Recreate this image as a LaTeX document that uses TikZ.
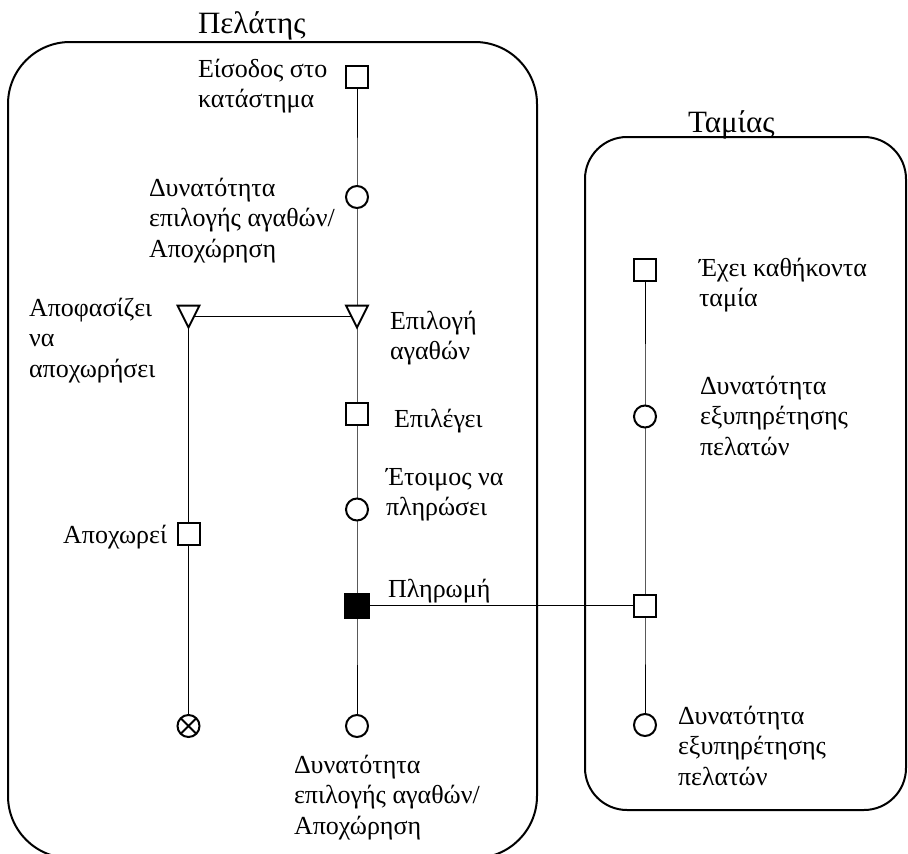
\documentclass[tikz,border=0pt]{standalone}
\usepackage{fontspec}
\setmainfont{Liberation Serif}
\usetikzlibrary{backgrounds}
\newcommand\lblfont{\fontsize{26}{30.5}\selectfont}
\newcommand\ttlfont{\fontsize{31}{36}\selectfont}

\begin{document}
\begin{tikzpicture}[x=1pt,y=-1pt,line width=2pt,
  sq/.style={draw, fill=white, rectangle, minimum size=22pt, inner sep=0pt},
  paysq/.style={sq, fill=black, minimum size=24pt},
  circ/.style={draw, fill=white, circle, minimum size=22pt, inner sep=0pt},
  endcirc/.style={circ, path picture={
      \draw (path picture bounding box.north west) -- (path picture bounding box.south east)
            (path picture bounding box.north east) -- (path picture bounding box.south west);}},
  tri/.style={rectangle, minimum size=28pt, inner sep=0pt, path picture={
      \filldraw[fill=white]
        ([shift={(-11,-11)}]path picture bounding box.center) --
        ([shift={(11,-11)}]path picture bounding box.center) --
        ([shift={(0,11)}]path picture bounding box.center) -- cycle;}},
  lbl/.style={anchor=north west, inner sep=0pt, align=left, font=\lblfont},
  lblone/.style={inner sep=0pt, font=\lblfont},
  title/.style={anchor=base west, inner sep=0pt, font=\ttlfont}]

\useasboundingbox (0,0) rectangle (908,854);

% swimlanes
\draw[rounded corners=62pt] (8,42) rectangle (537,858);
\draw[rounded corners=42pt] (585,137) rectangle (906,810);
\node[title] (tcust) at (197,33) {Πελάτης};
\node[title] (tcash) at (687,132) {Ταμίας};

% customer, main path
\node[sq]   (enter)  at (357,77)    {};
\node[circ] (browse) at (357,197)   {};
\node[tri]  (pick)   at (357,316.5) {};
\node[sq]   (choose) at (357,414)   {};
\node[circ] (ready)  at (357,509.5) {};
\node[paysq](pay)    at (357,605.5) {};
\node[circ] (again)  at (357,726)   {};

% customer, leaving path
\node[tri]     (decide) at (188.5,316.5) {};
\node[sq]      (leave)  at (188.5,534)   {};
\node[endcirc] (gone)   at (188.5,726)   {};

% cashier
\node[sq]   (duty)   at (645,270)   {};
\node[circ] (serve)  at (645,416.5) {};
\node[sq]   (till)   at (645,605.5) {};
\node[circ] (serve2) at (645,725)   {};

\begin{scope}[on background layer]
  \draw (enter.center) -- (browse.center) -- (pick.center) -- (choose.center)
        -- (ready.center) -- (pay.center) -- (again.center);
  \draw (pick.center) -- (decide.center);
  \draw (decide.center) -- (leave.center) -- (gone.center);
  \draw (pay.center) -- (till.center);
  \draw (duty.center) -- (serve.center) -- (till.center) -- (serve2.center);
\end{scope}

% labels
\node[lbl] (l1) at (197,55)  {\strut Είσοδος στο\\\strut κατάστημα};
\node[lbl] (l2) at (148,174) {\strut Δυνατότητα\\\strut επιλογής αγαθών/\\\strut Αποχώρηση};
\node[lbl] (l3) at (28,294)  {\strut Αποφασίζει\\\strut να\\\strut αποχωρήσει};
\node[lbl] (l4) at (389,307) {\strut Επιλογή\\\strut αγαθών};
\node[lblone, anchor=base west] (l5) at (393,427) {Επιλέγει};
\node[lbl] (l6) at (385,463) {\strut Έτοιμος να\\\strut πληρώσει};
\node[lblone, anchor=base west] (l7) at (387,597) {Πληρωμή};
\node[lblone, anchor=base east] (l8) at (168,543) {Αποχωρεί};
\node[lbl] (l9) at (293,751) {\strut Δυνατότητα\\\strut επιλογής αγαθών/\\\strut Αποχώρηση};
\node[lbl] (l10) at (698,254) {\strut Έχει καθήκοντα\\\strut ταμία};
\node[lbl] (l11) at (699,372) {\strut Δυνατότητα\\\strut εξυπηρέτησης\\\strut πελατών};
\node[lbl] (l12) at (677,702) {\strut Δυνατότητα\\\strut εξυπηρέτησης\\\strut πελατών};
\end{tikzpicture}
\end{document}
